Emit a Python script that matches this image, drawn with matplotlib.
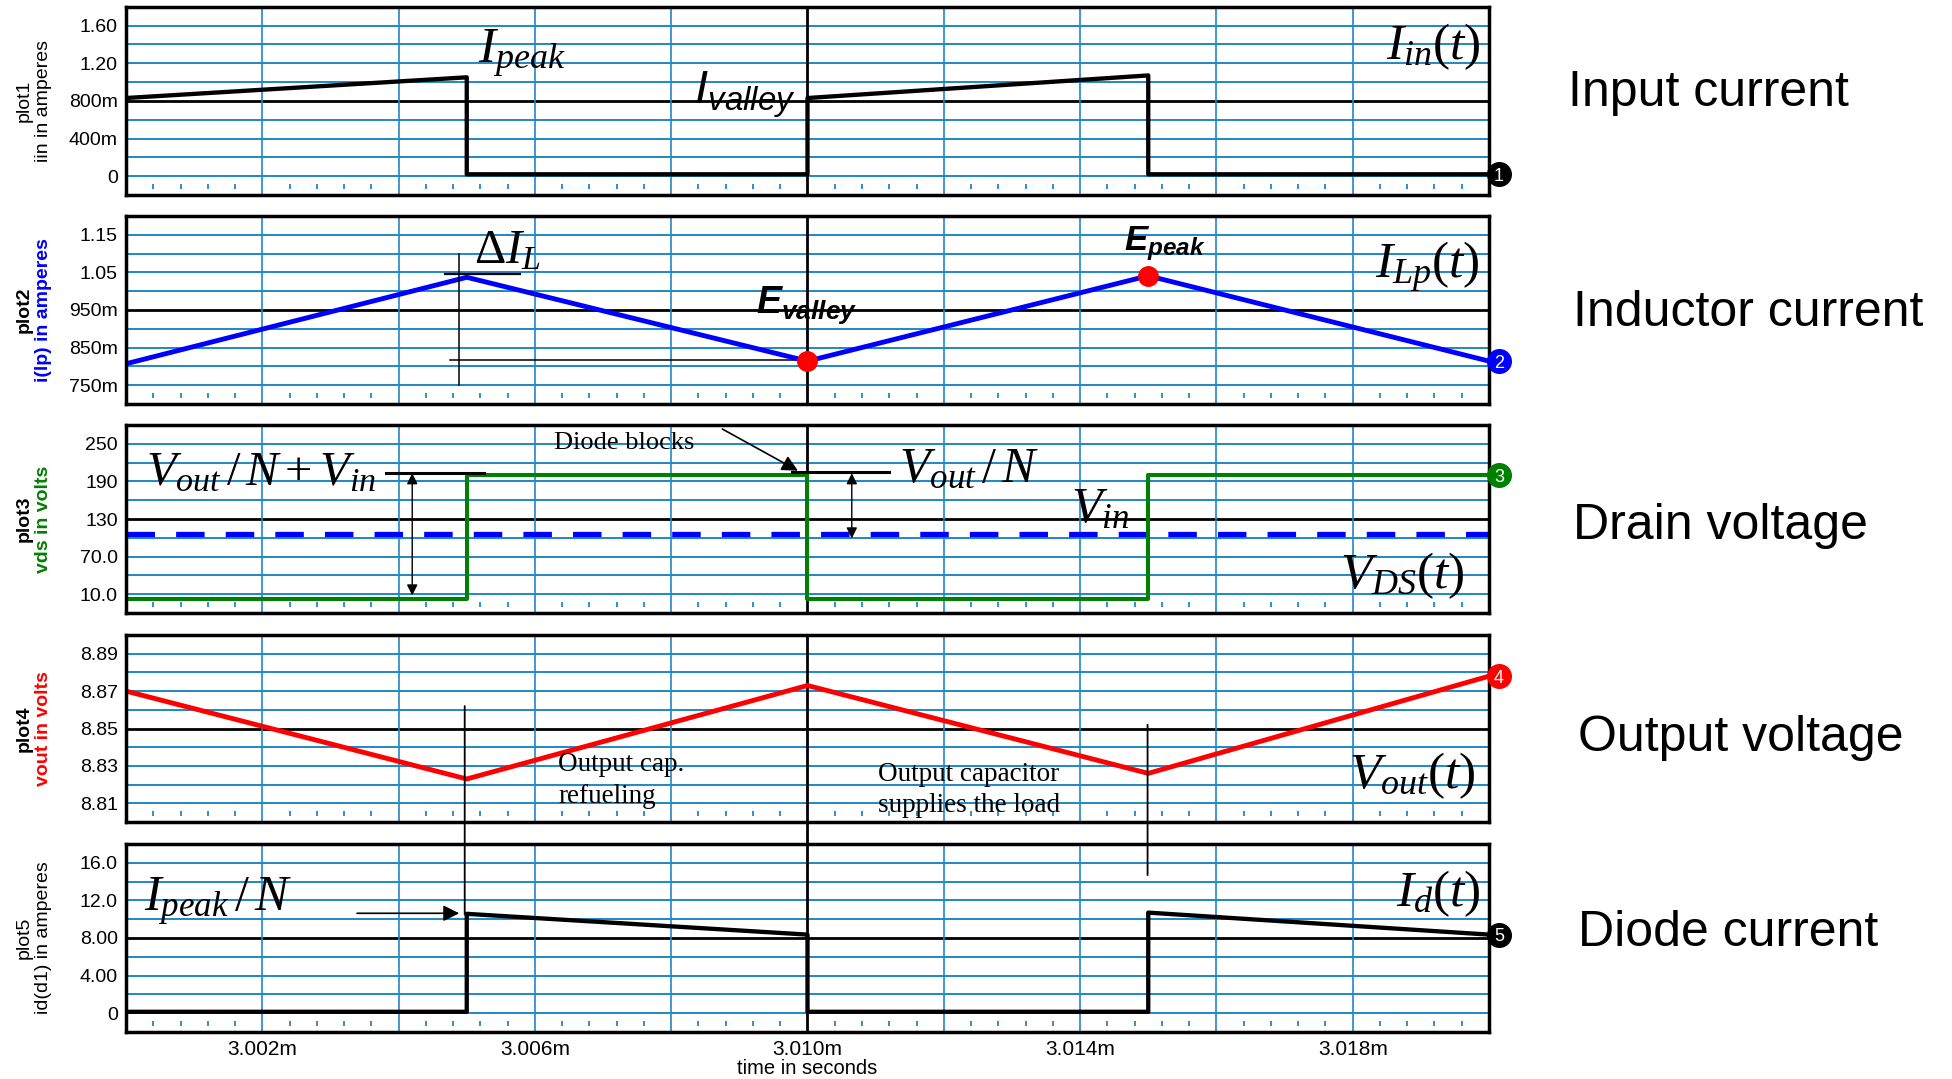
import numpy as np
import matplotlib
matplotlib.use('Agg')
import matplotlib.pyplot as plt
from matplotlib.patches import ConnectionPatch
from matplotlib.transforms import ScaledTranslation

plt.rcParams['font.family'] = ['Liberation Sans', 'DejaVu Sans']
plt.rcParams['mathtext.fontset'] = 'custom'
plt.rcParams['mathtext.rm'] = 'Liberation Serif'
plt.rcParams['mathtext.it'] = 'Liberation Serif:italic'
plt.rcParams['mathtext.bf'] = 'Liberation Sans:bold:italic'
plt.rcParams['mathtext.sf'] = 'Liberation Sans:italic'

# ---- dados (tempo em ms) ----
t_iin = [3.000, 3.005, 3.005, 3.010, 3.010, 3.015, 3.015, 3.020]
iin = [0.83, 1.05, 0.02, 0.02, 0.83, 1.07, 0.02, 0.02]

t_ilp = [3.000, 3.005, 3.010, 3.015, 3.020]
ilp = [0.807, 1.037, 0.814, 1.041, 0.814]

t_vds = [3.000, 3.000, 3.005, 3.005, 3.010, 3.010, 3.015, 3.015, 3.020]
vds = [85, 3, 3, 200, 200, 3, 3, 200, 200]
vin = 106

t_vout = [3.000, 3.005, 3.010, 3.015, 3.020]
vout = [8.870, 8.823, 8.873, 8.826, 8.878]

t_id = [3.000, 3.005, 3.005, 3.010, 3.010, 3.015, 3.015, 3.020]
id_d1 = [0.15, 0.15, 10.57, 8.36, 0.15, 0.15, 10.7, 8.36]

x_ticks = [3.002, 3.006, 3.010, 3.014, 3.018]
x_ticklabels = ['3.002m', '3.006m', '3.010m', '3.014m', '3.018m']

p1_yticks = [0, 0.4, 0.8, 1.2, 1.6]
p1_ylabels = ['0', '400m', '800m', '1.20', '1.60']
p2_yticks = [0.75, 0.85, 0.95, 1.05, 1.15]
p2_ylabels = ['750m', '850m', '950m', '1.05', '1.15']
p3_yticks = [10, 70, 130, 190, 250]
p3_ylabels = ['10.0', '70.0', '130', '190', '250']
p4_yticks = [8.81, 8.83, 8.85, 8.87, 8.89]
p4_ylabels = ['8.81', '8.83', '8.85', '8.87', '8.89']
p5_yticks = [0, 4, 8, 12, 16]
p5_ylabels = ['0', '4.00', '8.00', '12.0', '16.0']

right_labels = ['Input current', 'Inductor current', 'Drain voltage',
                'Output voltage', 'Diode current']

AZUL = '#1e88c8'
W, H = 1952, 1079
fig = plt.figure(figsize=(W / 100, H / 100), dpi=100)

# posições dos painéis em pixels (topo, base)
paineis_px = [(6.7, 195), (216, 404), (425, 613), (635, 822), (844, 1032)]
esq, dir_ = 126, 1489
axes = []
for topo, base in paineis_px:
    ax = fig.add_axes([esq / W, 1 - base / H, (dir_ - esq) / W, (base - topo) / H])
    axes.append(ax)
ax1, ax2, ax3, ax4, ax5 = axes


def configura(ax, yticks, ylabels, linha1, linha2, cor2, negrito):
    passo = (yticks[1] - yticks[0]) / 2
    ax.set_xlim(3.000, 3.020)
    ax.set_ylim(yticks[0] - passo, yticks[-1] + passo)
    meio = yticks[2]
    for y in np.arange(yticks[0], yticks[-1] + passo / 2, passo):
        if abs(y - meio) < passo / 10:
            ax.axhline(y, color='black', lw=2.0, zorder=1)
        else:
            ax.axhline(y, color=AZUL, lw=1.4, zorder=1)
    for x in np.arange(3.002, 3.0185, 0.002):
        if abs(x - 3.010) < 1e-6:
            ax.axvline(x, color='black', lw=2.0, zorder=1)
        else:
            ax.axvline(x, color=AZUL, lw=1.2, zorder=1)
    # tracinhos menores perto da base
    menores = [x for x in np.arange(3.0004, 3.020, 0.0004)
               if abs(round(x / 0.002) * 0.002 - x) > 1e-6]
    ax.vlines(menores, 0.032, 0.06, color=AZUL, lw=1.3,
              transform=ax.get_xaxis_transform(), zorder=1)
    ax.set_yticks(yticks)
    ax.set_yticklabels(ylabels)
    ax.set_xticks(x_ticks)
    ax.set_xticklabels(x_ticklabels)
    ax.tick_params(length=0, labelsize=14, pad=6)
    ax.tick_params(axis='x', labelsize=15)
    for s in ax.spines.values():
        s.set_linewidth(2.5)
        s.set_zorder(5)
    pos = ax.get_position()
    yc = pos.y0 + pos.height / 2
    peso = 'bold' if negrito else 'normal'
    fig.text(24 / W, yc, linha1, rotation=90, ha='center', va='center',
             fontsize=14, color='black', fontweight=peso)
    fig.text(44 / W, yc, linha2, rotation=90, ha='center', va='center',
             fontsize=14, color=cor2, fontweight=peso)


configura(ax1, p1_yticks, p1_ylabels, 'plot1', 'iin in amperes', 'black', False)
configura(ax2, p2_yticks, p2_ylabels, 'plot2', 'i(lp) in amperes', 'blue', True)
configura(ax3, p3_yticks, p3_ylabels, 'plot3', 'vds in volts', 'green', True)
configura(ax4, p4_yticks, p4_ylabels, 'plot4', 'vout in volts', 'red', True)
configura(ax5, p5_yticks, p5_ylabels, 'plot5', 'id(d1) in amperes', 'black', False)
for ax in axes[:-1]:
    ax.tick_params(labelbottom=False)

# ---- curvas ----
ax1.plot(t_iin, iin, color='black', lw=3.1, zorder=3)
ax2.plot(t_ilp, ilp, color='blue', lw=3.5, zorder=3)
ax2.plot([t_ilp[2], t_ilp[3]], [ilp[2], ilp[3]], 'o', color='red', ms=14, zorder=4)
ax3.axhline(vin, color='blue', lw=3.8, linestyle=(0, (5.4, 4.0)), zorder=3)
ax3.plot(t_vds, vds, color='green', lw=2.9, zorder=3)
ax4.plot(t_vout, vout, color='red', lw=3.5, zorder=3)
ax5.plot(t_id, id_d1, color='black', lw=3.1, zorder=3)


# marcadores numerados no fim de cada curva
def marca_fim(ax, x, y, num, cor):
    tr = ax.transData + ScaledTranslation(10 / 100, 0, fig.dpi_scale_trans)
    ax.plot([x], [y], 'o', ms=17, color=cor, transform=tr, clip_on=False, zorder=10)
    ax.text(x, y, num, color='white', fontsize=13, ha='center', va='center_baseline',
            transform=tr, clip_on=False, zorder=11)


marca_fim(ax1, t_iin[-1], iin[-1], '1', 'black')
marca_fim(ax2, t_ilp[-1], ilp[-1], '2', 'blue')
marca_fim(ax3, t_vds[-1], vds[-1], '3', 'green')
marca_fim(ax4, t_vout[-1], vout[-1], '4', 'red')
marca_fim(ax5, t_id[-1], id_d1[-1], '5', 'black')

# ---- anotações ----
txt = dict(ha='left', va='baseline', zorder=6)
ax1.text(3.00516, 1.205, r'$I_{peak}$', fontsize=37, **txt)
ax1.text(3.00834, 0.767, r'$\mathsf{I_{valley}}$', fontsize=34, **txt)
ax1.text(3.01988, 1.242, r'$I_{in}(t)$', fontsize=37, ha='right', va='baseline')

ax2.plot([3.00489, 3.00489], [1.10, 0.75], color='black', lw=1.1, zorder=4)
ax2.plot([3.00468, 3.00578], [1.045, 1.045], color='black', lw=1.6, zorder=4)
ax2.plot([3.00476, 3.00994], [0.818, 0.818], color='black', lw=1.1, zorder=2)
ax2.text(3.0051, 1.075, r'$\Delta I_L$', fontsize=35, **txt)
ax2.text(3.00925, 0.942, r'$\mathbf{E_{valley}}$', fontsize=27, **txt)
ax2.text(3.01464, 1.11, r'$\mathbf{E_{peak}}$', fontsize=25, **txt)
ax2.text(3.01987, 1.035, r'$I_{Lp}(t)$', fontsize=37, ha='right', va='baseline')

seta2 = dict(arrowstyle='<|-|>', color='black', lw=1.0, mutation_scale=16,
             shrinkA=0, shrinkB=0)
ax3.text(3.000293, 184, r'$V_{out}\,/\,N + V_{in}$', fontsize=35, **txt)
ax3.plot([3.00381, 3.00526], [204, 204], color='black', lw=2.2, zorder=4)
ax3.annotate('', xy=(3.00420, 8), xytext=(3.00420, 203), arrowprops=seta2, zorder=6)
ax3.text(3.00628, 241.7, 'Diode blocks', fontsize=19, family='Liberation Serif', **txt)
ax3.annotate('', xy=(3.00986, 207), xytext=(3.00875, 273.6),
             arrowprops=dict(arrowstyle='-|>', color='black', lw=1.2,
                             mutation_scale=24, shrinkA=0, shrinkB=0), zorder=6)
ax3.plot([3.00977, 3.01119], [205, 205], color='black', lw=2.2, zorder=4)
ax3.annotate('', xy=(3.01065, 99), xytext=(3.01065, 203), arrowprops=seta2, zorder=6)
ax3.text(3.01134, 189.5, r'$V_{out}\,/\,N$', fontsize=36, **txt)
ax3.text(3.01387, 125.8, r'$V_{in}$', fontsize=36, **txt)
ax3.text(3.01965, 19.4, r'$V_{DS}(t)$', fontsize=37, ha='right', va='baseline')

serif = dict(fontsize=19.5, family='Liberation Serif', ha='left', va='baseline', zorder=6)
ax4.text(3.00634, 8.8273, 'Output cap.', **serif)
ax4.text(3.00634, 8.8100, 'refueling', **serif)
ax4.text(3.01104, 8.8219, 'Output capacitor', **serif)
ax4.text(3.01104, 8.8053, 'supplies the load', **serif)
ax4.text(3.01980, 8.818, r'$V_{out}(t)$', fontsize=37, ha='right', va='baseline')

ax5.text(3.000257, 10.87, r'$I_{peak}\,/\,N$', fontsize=36, **txt)
ax5.annotate('', xy=(3.00489, 10.63), xytext=(3.00339, 10.63),
             arrowprops=dict(arrowstyle='-|>', color='black', lw=1.2,
                             mutation_scale=24, shrinkA=0, shrinkB=0), zorder=6)
ax5.text(3.01988, 11.4, r'$I_d(t)$', fontsize=37, ha='right', va='baseline')

# linhas verticais que atravessam os painéis 4 e 5
for xa, ya, xb, yb, lw in [(3.00497, 8.862, 3.00497, 10.5, 1.3),
                           (3.01499, 8.852, 3.01499, 14.7, 1.3),
                           (3.010, 8.80, 3.010, 18.0, 2.0)]:
    con = ConnectionPatch(xyA=(xa, ya), coordsA=ax4.transData,
                          xyB=(xb, yb), coordsB=ax5.transData,
                          color='black', lw=lw, zorder=6)
    fig.add_artist(con)

# rótulos à direita
base_px = [106.5, 326, 539, 751, 945.5]
esq_px = [1568.5, 1573.4, 1573, 1578, 1578]
for rot, yb, xl in zip(right_labels, base_px, esq_px):
    fig.text(xl / W, 1 - yb / H, rot, fontsize=36, ha='left', va='baseline')

fig.text(807 / W, 1 - 1074 / H, 'time in seconds', fontsize=14.5,
         ha='center', va='baseline')

fig.savefig('out.png', dpi=100)
